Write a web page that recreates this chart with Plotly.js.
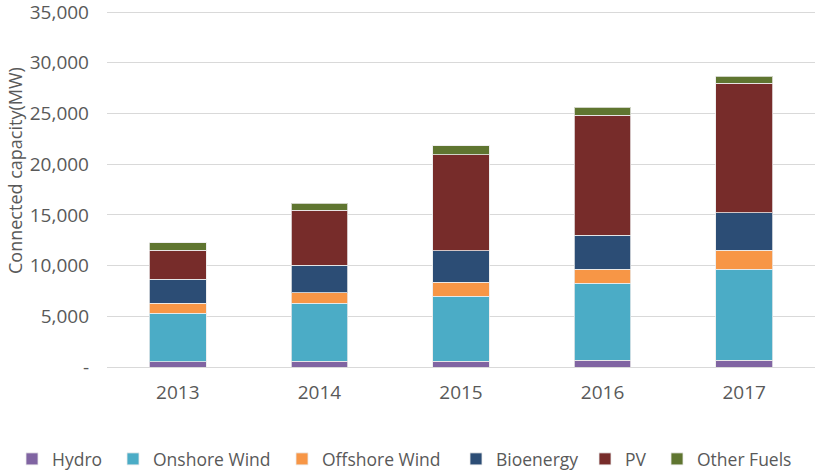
<!DOCTYPE html>
<html>
<head>
<meta charset="utf-8">
<script src="https://cdn.plot.ly/plotly-3.0.1.min.js"></script>
<style>html,body{margin:0;padding:0;background:#fff;}#chart{width:815px;height:470px;}</style>
</head>
<body>
<div id="chart"></div>
<script>
const years = ["2013", "2014", "2015", "2016", "2017"];
const hydro = [520, 560, 560, 660, 660];
const onshoreWind = [4770, 5720, 6440, 7590, 8970];
const offshoreWind = [1020, 1020, 1380, 1410, 1870];
const bioenergy = [2340, 2730, 3060, 3320, 3710];
const pv = [2860, 5420, 9500, 11830, 12760];
const otherFuels = [750, 690, 860, 790, 720];

const yTickVals = [0, 5000, 10000, 15000, 20000, 25000, 30000, 35000];
const yTickText = ["-", "5,000", "10,000", "15,000", "20,000", "25,000", "30,000", "35,000"];
const yTitle = "Connected capacity(MW)";

const seriesNames = ["Hydro", "Onshore Wind", "Offshore Wind", "Bioenergy", "PV", "Other Fuels"];
const seriesValues = [hydro, onshoreWind, offshoreWind, bioenergy, pv, otherFuels];
const seriesColors = ["#8064A2", "#4BACC6", "#F79646", "#2C4D75", "#772C2A", "#5F7530"];
const legendIds = ["legend", "legend2", "legend3", "legend4", "legend5", "legend6"];
const legendLeft = [12, 113, 282, 456, 585, 657];

const traces = seriesNames.map((n, i) => ({
  type: "bar",
  name: n,
  x: years,
  y: seriesValues[i],
  legend: legendIds[i],
  marker: { color: seriesColors[i], line: { color: "rgba(235,235,235,0.8)", width: 1 } },
  hoverinfo: "x+y+name"
}));

const tickFont = { family: "Open Sans, sans-serif", size: 19, color: "#595959" };
const legFont = { family: "Open Sans, sans-serif", size: 17.5, color: "#595959" };
const titleFont = { family: "Open Sans, sans-serif", size: 18, color: "#595959" };

const layout = {
  width: 815, height: 470,
  margin: { l: 107, r: 0, t: 11, b: 103 },
  paper_bgcolor: "#fff", plot_bgcolor: "#fff",
  barmode: "stack",
  bargap: 0.6,
  font: tickFont,
  showlegend: true,
  xaxis: {
    type: "category",
    showgrid: false, zeroline: false, showline: false,
    ticks: "", tickfont: tickFont, ticklabelstandoff: 12
  },
  yaxis: {
    range: [0, 35100],
    tickvals: yTickVals, ticktext: yTickText,
    showgrid: true, gridcolor: "#d9d9d9", gridwidth: 1,
    zeroline: true, zerolinecolor: "#d9d9d9", zerolinewidth: 1,
    showline: false, ticks: "",
    tickfont: tickFont, ticklabelstandoff: 17,
    ticklabeloverflow: "allow",
    automargin: false
  },
  annotations: [{
    text: yTitle,
    textangle: -90,
    xref: "paper", yref: "paper",
    x: (15 - 107) / 708, xanchor: "center",
    y: (367 - 171) / 356, yanchor: "middle",
    showarrow: false,
    font: titleFont
  }]
};
legendIds.forEach((id, i) => {
  layout[id] = {
    orientation: "h",
    xref: "container", yref: "container",
    x: legendLeft[i] / 815, xanchor: "left",
    y: 11 / 470, yanchor: "middle",
    font: legFont,
    bgcolor: "rgba(0,0,0,0)",
    itemwidth: 30
  };
});

Plotly.newPlot("chart", traces, layout, { displayModeBar: false, staticPlot: true });
</script>
</body>
</html>
